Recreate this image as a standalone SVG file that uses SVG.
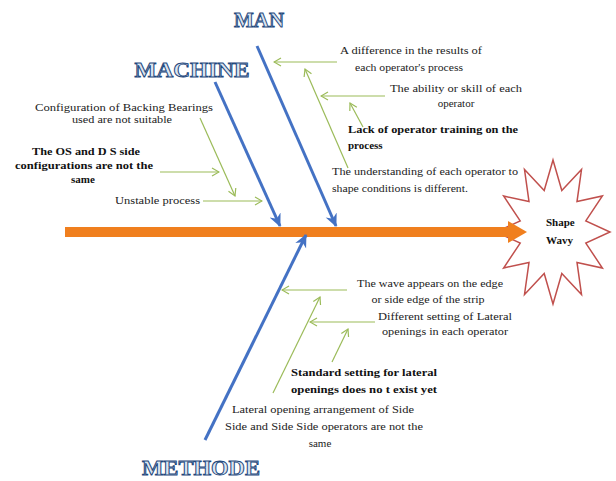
<svg xmlns="http://www.w3.org/2000/svg" width="616" height="481" viewBox="0 0 616 481">
<defs>
<marker id="bh" markerUnits="userSpaceOnUse" markerWidth="14" markerHeight="14" refX="12" refY="7" orient="auto">
<path d="M0,1 L13,7 L0,13 L4,7 Z" fill="#4472c4"/>
</marker>
<marker id="gh" markerUnits="userSpaceOnUse" markerWidth="10" markerHeight="10" refX="1" refY="5" orient="auto">
<path d="M8,1 L1,5 L8,9" fill="none" stroke="#9bbb59" stroke-width="1.2"/>
</marker>
<style>
.bone{stroke:#4472c4;stroke-width:3;fill:none;marker-end:url(#bh)}
.g{stroke:#9bbb59;stroke-width:1.2;fill:none;marker-start:url(#gh)}
.cat{font-family:"Liberation Serif",serif;font-weight:bold;font-size:20px;fill:#dbe5f1;stroke:#1f497d;stroke-width:0.9;text-anchor:middle}
.t{font-family:"Liberation Serif",serif;font-size:11px;fill:#222}
.b{font-family:"Liberation Serif",serif;font-size:11px;font-weight:bold;fill:#111}
.m{text-anchor:middle}
</style>
</defs>
<rect width="616" height="481" fill="#ffffff"/>

<g id="effect">
<polygon points="553,160 561.8,190.5 581.5,169.6 577,201.6 602.4,196 585.8,220.9 610,232 585.8,243.1 602.4,268 577,262.4 581.5,294.4 561.8,273.5 553,304 544.2,273.5 524.5,294.4 529,262.4 503.6,268 520.2,243.1 496,232 520.2,220.9 503.6,196 529,201.6 524.5,169.6 544.2,190.5" fill="#ffffff" stroke="#c0504d" stroke-width="1.5"/>
<text class="b" x="546" y="226">Shape</text>
<text class="b" x="546" y="244">Wavy</text>
</g>

<g id="spine">
<rect x="65" y="227" width="445" height="10" fill="#f07f1e"/>
<polygon points="508,221 527,232 508,243" fill="#f07f1e"/>
</g>

<g id="connectors">
<line class="bone" x1="257" y1="46" x2="336" y2="226"/>
<line class="bone" x1="215" y1="82" x2="280" y2="226"/>
<line class="bone" x1="205" y1="440" x2="306" y2="235"/>

<line class="g" x1="274" y1="62" x2="337" y2="62"/>
<line class="g" x1="305" y1="69" x2="348" y2="168"/>
<line class="g" x1="321" y1="96" x2="385" y2="96"/>
<line class="g" x1="350" y1="103" x2="363" y2="127"/>

<line class="g" x1="235" y1="196" x2="200" y2="118"/>
<line class="g" x1="219" y1="172" x2="160" y2="172"/>
<line class="g" x1="262" y1="201" x2="203" y2="201"/>

<line class="g" x1="282" y1="290" x2="347" y2="290"/>
<line class="g" x1="320" y1="297" x2="273" y2="393"/>
<line class="g" x1="310" y1="322" x2="375" y2="322"/>
<line class="g" x1="348" y1="329" x2="332" y2="362"/>
</g>

<g id="man">
<text class="cat" x="259" y="27" textLength="50" lengthAdjust="spacingAndGlyphs">MAN</text>
<text class="t m" x="411" y="54" textLength="142" lengthAdjust="spacingAndGlyphs">A difference in the results of</text>
<text class="t m" x="409" y="71" textLength="108" lengthAdjust="spacingAndGlyphs">each operator's process</text>
<text class="t m" x="456" y="92" textLength="132" lengthAdjust="spacingAndGlyphs">The ability  or skill  of each</text>
<text class="t m" x="456" y="107">operator</text>
<text class="b" x="348" y="133" textLength="170" lengthAdjust="spacingAndGlyphs">Lack of operator training on the</text>
<text class="b" x="348" y="149">process</text>
<text class="t" x="332" y="175" textLength="186" lengthAdjust="spacingAndGlyphs">The understanding of each operator to</text>
<text class="t" x="332" y="192" textLength="136" lengthAdjust="spacingAndGlyphs">shape conditions  is different.</text>
</g>

<g id="machine">
<text class="cat" x="192" y="77" textLength="115" lengthAdjust="spacingAndGlyphs">MACHINE</text>
<text class="t m" x="124" y="111" textLength="178" lengthAdjust="spacingAndGlyphs">Configuration  of Backing Bearings</text>
<text class="t m" x="122" y="123" textLength="100" lengthAdjust="spacingAndGlyphs">used are not suitable</text>
<text class="b m" x="86" y="155" textLength="108" lengthAdjust="spacingAndGlyphs">The OS and D S side</text>
<text class="b m" x="84" y="169" textLength="138" lengthAdjust="spacingAndGlyphs">configurations are not the</text>
<text class="b m" x="83" y="183">same</text>
<text class="t" x="115" y="204" textLength="85" lengthAdjust="spacingAndGlyphs">Unstable process</text>
</g>

<g id="methode">
<text class="cat" x="201" y="475" textLength="118" lengthAdjust="spacingAndGlyphs">METHODE</text>
<text class="t m" x="430" y="287" textLength="146" lengthAdjust="spacingAndGlyphs">The wave appears on the edge</text>
<text class="t m" x="428" y="303" textLength="113" lengthAdjust="spacingAndGlyphs">or side edge of the strip</text>
<text class="t m" x="445" y="320" textLength="134" lengthAdjust="spacingAndGlyphs">Different setting of Lateral</text>
<text class="t m" x="445" y="335" textLength="126" lengthAdjust="spacingAndGlyphs">openings  in each operator</text>
<text class="b m" x="364" y="376" textLength="146" lengthAdjust="spacingAndGlyphs">Standard  setting for lateral</text>
<text class="b m" x="364" y="393" textLength="146" lengthAdjust="spacingAndGlyphs">openings does no t exist yet</text>
<text class="t m" x="323" y="413" textLength="182" lengthAdjust="spacingAndGlyphs">Lateral opening arrangement of Side</text>
<text class="t m" x="324" y="430" textLength="198" lengthAdjust="spacingAndGlyphs">Side and Side Side  operators are not the</text>
<text class="t m" x="320" y="447">same</text>
</g>
</svg>
